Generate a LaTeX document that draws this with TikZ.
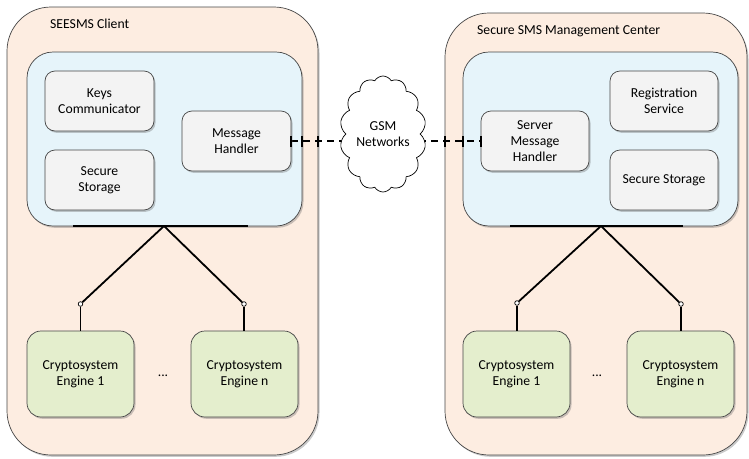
\documentclass[tikz,border=0pt]{standalone}
\usepackage{fontspec}
\setmainfont{Carlito}
\usetikzlibrary{shapes.symbols,shadows,backgrounds}
\pgfdeclarelayer{conn}
\pgfsetlayers{background,conn,main}
\definecolor{peach}{RGB}{253,237,225}
\definecolor{lightblue}{RGB}{230,244,250}
\definecolor{boxgray}{RGB}{243,243,243}
\definecolor{engreen}{RGB}{228,238,205}
\definecolor{edgegray}{RGB}{70,70,70}
\tikzset{
  txt/.style={font=\fontsize{13.7}{16}\selectfont, align=center},
  shad/.style={drop shadow={shadow xshift=1.5pt, shadow yshift=-1.8pt, opacity=0.35, fill=black!60}},
  outerbox/.style={draw=edgegray, line width=0.7pt, fill=peach, rounded corners=44, inner sep=0, outer sep=0, shad},
  innerbox/.style={draw=edgegray, line width=0.7pt, fill=lightblue, rounded corners=26, inner sep=0, outer sep=0, shad},
  compbox/.style={txt, draw=edgegray, line width=0.7pt, fill=boxgray, rounded corners=10, minimum width=109, minimum height=60, inner sep=0, outer sep=0, shad},
  engbox/.style={txt, draw=edgegray, line width=0.7pt, fill=engreen, rounded corners=14, minimum width=107, minimum height=86, inner sep=0, outer sep=0, shad},
  title/.style={txt, anchor=west, inner sep=0},
  link/.style={draw=black, line width=1.8pt},
  busbar/.style={draw=black, line width=2.4pt},
  port/.style={circle, draw=black, fill=white, line width=0.7pt, minimum size=4.6, inner sep=0},
  dashlink/.style={draw=black, line width=2pt, dash pattern=on 7pt off 5pt},
  tickmark/.style={draw=black, line width=2pt},
  netcloud/.style={txt, cloud, draw=black, line width=0.7pt, fill=white, cloud puffs=14, cloud puff arc=120, aspect=0.75, minimum width=84, minimum height=116, inner sep=0},
}
\begin{document}
\begin{tikzpicture}[x=1pt,y=-1pt]
\useasboundingbox (0,0) rectangle (749,458);
% containers
\begin{pgfonlayer}{background}
\node[outerbox, minimum width=311, minimum height=448] (cl) at (162.5,231) {};
\node[outerbox, minimum width=302, minimum height=442] (cr) at (596,234) {};
\node[innerbox, minimum width=275, minimum height=174] (li) at (164.5,139) {};
\node[innerbox, minimum width=275, minimum height=174] (ri) at (600.5,139) {};
\end{pgfonlayer}
\node[title] (tl) at (50,24) {SEESMS Client};
\node[title] (tr) at (477,31) {Secure SMS Management Center};
% components
\node[compbox] (keys) at (99.5,101) {Keys\\Communicator};
\node[compbox] (ssl) at (99.5,180) {Secure\\Storage};
\node[compbox] (mh) at (236.5,141) {Message\\Handler};
\node[compbox, minimum width=108] (smh) at (535,141) {Server\\Message\\Handler};
\node[compbox, minimum width=108] (reg) at (664,101) {Registration\\Service};
\node[compbox, minimum width=108] (ssr) at (664,180) {Secure Storage};
\node[netcloud] (gsm) at (383,134) {GSM\\Networks};
% engines
\node[engbox] (el1) at (80.5,374) {Cryptosystem\\Engine 1};
\node[engbox] (eln) at (244.5,374) {Cryptosystem\\Engine n};
\node[engbox] (er1) at (516.5,374) {Cryptosystem\\Engine 1};
\node[engbox] (ern) at (680.5,374) {Cryptosystem\\Engine n};
\node[txt] (dl) at (163,376) {...};
\node[txt] (dr) at (597,376) {...};
% bus bars and junctions
\coordinate (bl1) at (73,226);
\coordinate (bl2) at (248,226);
\coordinate (jl) at (164,226);
\coordinate (br1) at (510,226);
\coordinate (br2) at (683,226);
\coordinate (jr) at (601,226);
\draw[busbar] (bl1) -- (bl2);
\draw[busbar] (br1) -- (br2);
\node[port] (pl1) at (80.5,304) {};
\node[port] (pln) at (244,304) {};
\node[port] (pr1) at (517,303) {};
\node[port] (prn) at (681,304) {};
\draw[link] (jl) -- (pl1);
\draw[link] (jl) -- (pln);
\draw[link] (jr) -- (pr1);
\draw[link] (jr) -- (prn);
\draw[link] (pl1) -- (el1.north);
\draw[link] (pln) -- (pln |- eln.north);
\draw[link] (pr1) -- (pr1 |- er1.north);
\draw[link] (prn) -- (prn |- ern.north);
% network links
\begin{pgfonlayer}{conn}
\draw[dashlink] (mh.east) -- (gsm.center |- mh.east);
\draw[dashlink] (gsm.center |- smh.west) -- (smh.west);
\end{pgfonlayer}
\coordinate (t1) at (mh.east);
\coordinate (t2) at (li.east |- mh.east);
\coordinate (t3) at (cl.east |- mh.east);
\coordinate (t4) at (cr.west |- smh.west);
\coordinate (t5) at (ri.west |- smh.west);
\coordinate (t6) at (smh.west);
\foreach \p in {t1,t2,t3,t4,t5,t6}{
  \draw[tickmark] ([yshift=-5.5pt]\p) -- ([yshift=5.5pt]\p);
}
\end{tikzpicture}
\end{document}
